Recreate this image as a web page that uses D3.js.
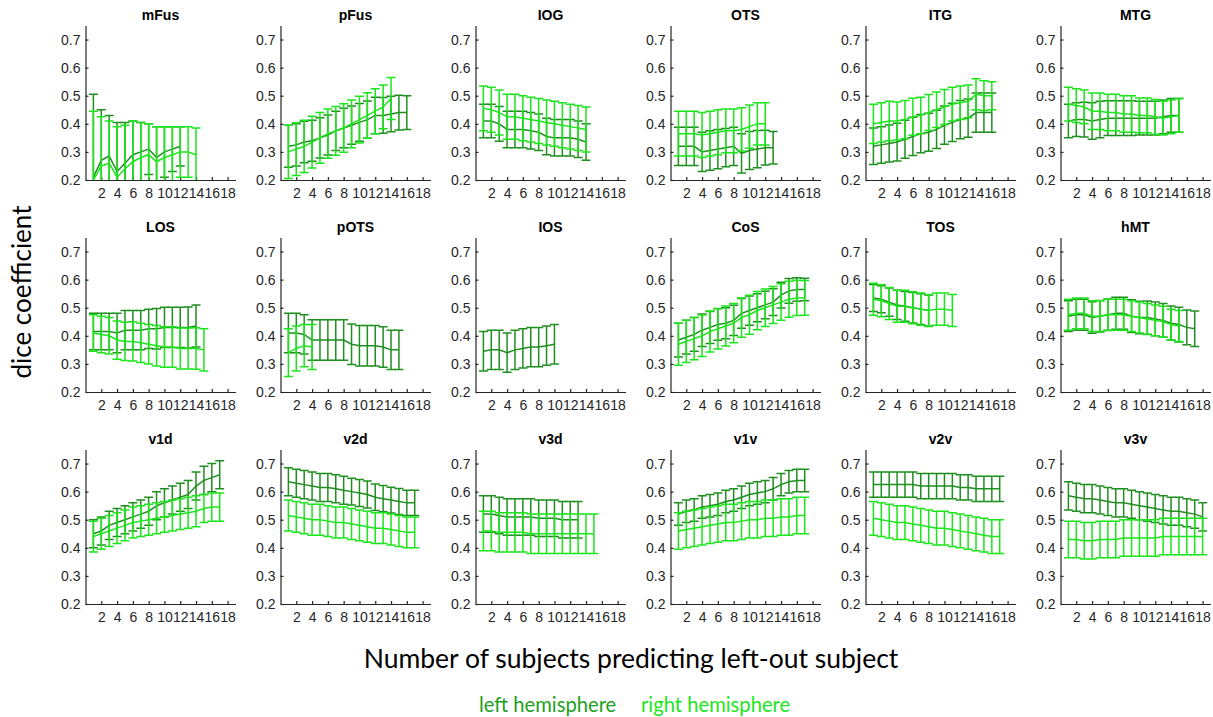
<!DOCTYPE html>
<html>
<head>
<meta charset="utf-8">
<script src="https://cdn.jsdelivr.net/npm/d3@7"></script>
<style>
  body { margin: 0; background: #fff; }
  svg { display: block; }
  .tick text { font-family: "Liberation Sans", Arial, sans-serif; font-size: 14px; fill: #262626; }
  .tick line, .domain { stroke: #262626; stroke-width: 1.2px; }
</style>
</head>
<body>
<svg id="chart" width="1213" height="717"></svg>
<script>
// region names, in panel order (3 rows of 6)
const regions = ["mFus","pFus","IOG","OTS","ITG","MTG","LOS","pOTS","IOS","CoS","TOS","hMT","v1d","v2d","v3d","v1v","v2v","v3v"];
const xTicks = [2,4,6,8,10,12,14,16,18];
const yTicks = [0.2,0.3,0.4,0.5,0.6,0.7];

// left hemisphere mean dice, x = 1..n, one list per region
const leftMean = [
  [0.21,0.27,0.285,0.23,0.26,0.29,0.30,0.31,0.28,0.30,0.31,0.32],
  [0.32,0.325,0.335,0.34,0.35,0.36,0.375,0.385,0.395,0.405,0.415,0.43,0.43,0.435,0.44,0.44],
  [0.41,0.41,0.40,0.38,0.38,0.38,0.375,0.37,0.355,0.35,0.35,0.35,0.345,0.335],
  [0.32,0.32,0.32,0.30,0.305,0.31,0.315,0.32,0.295,0.305,0.31,0.315,0.315],
  [0.32,0.325,0.33,0.335,0.345,0.355,0.365,0.37,0.38,0.395,0.405,0.415,0.42,0.44,0.44,0.44],
  [0.41,0.415,0.415,0.41,0.415,0.42,0.42,0.42,0.42,0.42,0.42,0.42,0.425,0.43,0.43],
  [0.415,0.415,0.415,0.41,0.42,0.42,0.42,0.425,0.425,0.43,0.43,0.43,0.43,0.435],
  [0.41,0.41,0.405,0.385,0.385,0.385,0.385,0.385,0.37,0.365,0.365,0.365,0.36,0.35,0.35],
  [0.345,0.35,0.35,0.34,0.35,0.355,0.36,0.36,0.365,0.37],
  [0.385,0.395,0.405,0.42,0.43,0.44,0.445,0.455,0.48,0.49,0.50,0.51,0.52,0.545,0.56,0.565,0.565],
  [0.535,0.53,0.52,0.51,0.505,0.50,0.495,0.49],
  [0.47,0.475,0.475,0.465,0.47,0.475,0.48,0.48,0.47,0.465,0.465,0.46,0.455,0.445,0.44,0.43,0.425],
  [0.45,0.46,0.48,0.49,0.50,0.51,0.52,0.53,0.55,0.56,0.57,0.58,0.59,0.62,0.64,0.65,0.66],
  [0.635,0.63,0.625,0.62,0.615,0.615,0.61,0.605,0.60,0.595,0.59,0.58,0.575,0.57,0.565,0.56,0.56],
  [0.52,0.52,0.515,0.51,0.51,0.51,0.51,0.505,0.505,0.505,0.50,0.50,0.50],
  [0.52,0.53,0.535,0.545,0.55,0.555,0.565,0.57,0.58,0.59,0.595,0.60,0.61,0.625,0.635,0.64,0.64],
  [0.625,0.625,0.625,0.625,0.625,0.625,0.62,0.62,0.62,0.62,0.62,0.615,0.615,0.61,0.61,0.61,0.61],
  [0.585,0.58,0.575,0.575,0.57,0.565,0.56,0.56,0.555,0.55,0.545,0.54,0.535,0.53,0.53,0.525,0.52,0.51]
];
const leftErr = [
  [0.295,0.18,0.145,0.175,0.145,0.12,0.105,0.09,0.11,0.09,0.08,0.07],
  [0.075,0.075,0.074,0.073,0.072,0.071,0.07,0.07,0.068,0.067,0.066,0.065,0.064,0.063,0.062,0.06],
  [0.06,0.06,0.062,0.065,0.065,0.065,0.065,0.065,0.065,0.065,0.065,0.065,0.065,0.065],
  [0.068,0.068,0.068,0.07,0.07,0.07,0.068,0.068,0.07,0.068,0.066,0.062,0.058],
  [0.065,0.065,0.066,0.067,0.068,0.068,0.068,0.068,0.068,0.068,0.068,0.068,0.068,0.07,0.07,0.07],
  [0.06,0.06,0.062,0.065,0.065,0.062,0.062,0.062,0.062,0.06,0.06,0.06,0.06,0.06,0.06],
  [0.065,0.065,0.065,0.07,0.07,0.07,0.07,0.07,0.072,0.072,0.072,0.072,0.073,0.075],
  [0.07,0.07,0.07,0.072,0.072,0.072,0.072,0.072,0.072,0.072,0.072,0.072,0.072,0.07,0.07],
  [0.07,0.07,0.07,0.07,0.07,0.07,0.07,0.07,0.07,0.07],
  [0.06,0.06,0.06,0.058,0.057,0.056,0.055,0.054,0.053,0.052,0.05,0.049,0.048,0.046,0.044,0.042,0.04],
  [0.048,0.048,0.05,0.052,0.053,0.054,0.055,0.055],
  [0.055,0.055,0.055,0.056,0.056,0.056,0.057,0.057,0.058,0.058,0.059,0.06,0.06,0.061,0.062,0.062,0.063],
  [0.05,0.05,0.05,0.05,0.05,0.05,0.05,0.05,0.05,0.05,0.05,0.05,0.05,0.05,0.05,0.05,0.05],
  [0.05,0.05,0.05,0.05,0.05,0.05,0.05,0.05,0.048,0.048,0.048,0.047,0.047,0.046,0.046,0.045,0.045],
  [0.065,0.065,0.065,0.065,0.065,0.065,0.065,0.065,0.065,0.065,0.065,0.065,0.065],
  [0.04,0.04,0.04,0.04,0.04,0.04,0.04,0.04,0.04,0.04,0.04,0.04,0.04,0.04,0.04,0.04,0.04],
  [0.045,0.045,0.045,0.045,0.045,0.045,0.045,0.045,0.045,0.045,0.045,0.045,0.045,0.045,0.045,0.045,0.045],
  [0.05,0.05,0.05,0.05,0.05,0.05,0.05,0.05,0.05,0.05,0.05,0.05,0.05,0.05,0.05,0.05,0.05,0.05]
];

// right hemisphere
const rightMean = [
  [0.20,0.25,0.26,0.21,0.24,0.265,0.28,0.29,0.265,0.28,0.29,0.30,0.30,0.29],
  [0.30,0.31,0.32,0.335,0.35,0.365,0.375,0.385,0.40,0.415,0.43,0.445,0.46,0.49],
  [0.455,0.45,0.44,0.425,0.425,0.42,0.415,0.41,0.405,0.40,0.395,0.39,0.385,0.38],
  [0.365,0.365,0.365,0.36,0.365,0.37,0.375,0.375,0.38,0.39,0.40,0.40],
  [0.40,0.405,0.41,0.41,0.415,0.425,0.43,0.44,0.45,0.46,0.47,0.475,0.48,0.505,0.50,0.50],
  [0.47,0.465,0.46,0.445,0.445,0.44,0.44,0.435,0.435,0.43,0.43,0.425,0.42,0.425,0.43],
  [0.41,0.405,0.40,0.385,0.38,0.38,0.375,0.37,0.365,0.36,0.36,0.355,0.355,0.355,0.35],
  [0.34,0.355,0.365,0.36],
  [],
  [0.37,0.38,0.39,0.40,0.415,0.425,0.435,0.445,0.465,0.475,0.49,0.50,0.51,0.52,0.53,0.535,0.535],
  [0.53,0.525,0.515,0.505,0.505,0.50,0.495,0.49,0.495,0.495,0.49],
  [0.475,0.48,0.48,0.47,0.47,0.475,0.475,0.475,0.47,0.465,0.46,0.455,0.45,0.44,0.435],
  [0.44,0.45,0.46,0.47,0.48,0.49,0.495,0.50,0.505,0.51,0.515,0.52,0.525,0.53,0.54,0.545,0.545],
  [0.515,0.51,0.505,0.50,0.50,0.495,0.49,0.49,0.485,0.48,0.475,0.47,0.47,0.465,0.46,0.455,0.455],
  [0.46,0.46,0.455,0.455,0.455,0.455,0.45,0.45,0.45,0.45,0.45,0.45,0.45,0.45,0.45],
  [0.46,0.465,0.47,0.475,0.48,0.485,0.49,0.49,0.495,0.50,0.50,0.505,0.505,0.51,0.51,0.515,0.515],
  [0.505,0.50,0.495,0.49,0.49,0.485,0.48,0.475,0.47,0.47,0.465,0.46,0.455,0.45,0.445,0.44,0.44],
  [0.43,0.43,0.425,0.425,0.43,0.43,0.43,0.435,0.435,0.435,0.435,0.435,0.44,0.44,0.44,0.44,0.44,0.44]
];
const rightErr = [
  [0.245,0.175,0.15,0.18,0.155,0.145,0.125,0.11,0.125,0.11,0.10,0.09,0.09,0.095],
  [0.095,0.094,0.093,0.092,0.09,0.088,0.087,0.086,0.085,0.083,0.081,0.08,0.078,0.075],
  [0.08,0.08,0.08,0.08,0.08,0.08,0.08,0.08,0.08,0.08,0.08,0.08,0.08,0.08],
  [0.08,0.08,0.08,0.08,0.08,0.08,0.078,0.078,0.077,0.077,0.075,0.075],
  [0.07,0.07,0.07,0.068,0.068,0.066,0.065,0.064,0.063,0.062,0.06,0.06,0.058,0.055,0.053,0.05],
  [0.06,0.06,0.06,0.065,0.065,0.065,0.065,0.065,0.065,0.062,0.062,0.062,0.06,0.06,0.06],
  [0.065,0.065,0.065,0.068,0.068,0.07,0.07,0.07,0.072,0.072,0.072,0.073,0.073,0.074,0.075],
  [0.085,0.08,0.075,0.08],
  [],
  [0.075,0.075,0.075,0.074,0.073,0.072,0.071,0.07,0.07,0.069,0.068,0.067,0.066,0.065,0.064,0.063,0.062],
  [0.057,0.057,0.057,0.057,0.057,0.057,0.057,0.057,0.057,0.057,0.057],
  [0.055,0.055,0.055,0.055,0.055,0.055,0.055,0.055,0.055,0.055,0.055,0.055,0.055,0.055,0.055],
  [0.055,0.055,0.055,0.055,0.055,0.055,0.055,0.055,0.055,0.055,0.055,0.055,0.055,0.055,0.05,0.05,0.05],
  [0.055,0.055,0.055,0.055,0.055,0.055,0.055,0.055,0.055,0.055,0.055,0.055,0.055,0.055,0.055,0.055,0.055],
  [0.07,0.07,0.07,0.07,0.07,0.07,0.07,0.07,0.07,0.07,0.07,0.07,0.07,0.07,0.07],
  [0.065,0.065,0.065,0.065,0.065,0.065,0.065,0.065,0.065,0.065,0.065,0.065,0.065,0.065,0.065,0.065,0.065],
  [0.06,0.06,0.06,0.06,0.06,0.06,0.06,0.06,0.06,0.06,0.06,0.06,0.06,0.06,0.06,0.06,0.06],
  [0.065,0.065,0.065,0.065,0.065,0.065,0.065,0.065,0.065,0.065,0.065,0.065,0.065,0.065,0.065,0.065,0.065,0.065]
];

const leftColor = "#1f8f1f";
const rightColor = "#1ae61a";

const svg = d3.select("#chart");
const panelW = 150, panelH = 154.5;

regions.forEach((name, i) => {
  const col = i % 6, row = Math.floor(i / 6);
  const x0 = 85.5 + col * 195;
  const yb = 180 + row * 212;

  const x = d3.scaleLinear().domain([0, 19]).range([x0, x0 + panelW]);
  const y = d3.scaleLinear().domain([0.2, 0.75]).range([yb, yb - panelH]);

  const g = svg.append("g");

  svg.append("clipPath").attr("id", "clip" + i)
    .append("rect")
    .attr("x", x0).attr("y", yb - panelH)
    .attr("width", panelW).attr("height", panelH);

  g.append("g")
    .attr("transform", `translate(0,${yb})`)
    .call(d3.axisBottom(x).tickValues(xTicks).tickSize(-3).tickSizeOuter(0).tickPadding(8));

  g.append("g")
    .attr("transform", `translate(${x0},0)`)
    .call(d3.axisLeft(y).tickValues(yTicks).tickSize(-3).tickSizeOuter(0).tickPadding(5)
      .tickFormat(d3.format(".1f")));

  g.append("text")
    .attr("x", x0 + panelW / 2).attr("y", yb - 160)
    .attr("text-anchor", "middle")
    .style("font-family", "Liberation Sans, Arial, sans-serif")
    .style("font-weight", "bold").style("font-size", "14px")
    .attr("fill", "#000")
    .text(name);

  const plot = g.append("g").attr("clip-path", `url(#clip${i})`);

  const series = [
    { mean: leftMean[i], err: leftErr[i], color: leftColor },
    { mean: rightMean[i], err: rightErr[i], color: rightColor }
  ];

  series.forEach(s => {
    const pts = s.mean.map((m, k) => ({ n: k + 1, m, e: s.err[k] }));
    const sg = plot.append("g").attr("stroke", s.color).attr("stroke-width", 1.5).attr("fill", "none");

    sg.selectAll(".bar").data(pts).join("line")
      .attr("x1", d => x(d.n)).attr("x2", d => x(d.n))
      .attr("y1", d => y(d.m - d.e)).attr("y2", d => y(d.m + d.e));
    sg.selectAll(".capt").data(pts).join("line").attr("class", "capt")
      .attr("x1", d => x(d.n) - 4.5).attr("x2", d => x(d.n) + 4.5)
      .attr("y1", d => y(d.m + d.e)).attr("y2", d => y(d.m + d.e));
    sg.selectAll(".capb").data(pts).join("line").attr("class", "capb")
      .attr("x1", d => x(d.n) - 4.5).attr("x2", d => x(d.n) + 4.5)
      .attr("y1", d => y(d.m - d.e)).attr("y2", d => y(d.m - d.e));

    sg.append("path").datum(pts)
      .attr("d", d3.line().x(d => x(d.n)).y(d => y(d.m)));
  });
});

// shared labels
svg.append("text")
  .attr("transform", "translate(31,292) rotate(-90)")
  .attr("text-anchor", "middle")
  .style("font-family", "Lato, sans-serif").style("font-size", "26px")
  .attr("fill", "#000")
  .text("dice coefficient");

svg.append("text")
  .attr("x", 631).attr("y", 668)
  .attr("text-anchor", "middle")
  .style("font-family", "Lato, sans-serif").style("font-size", "26.5px")
  .attr("fill", "#000")
  .text("Number of subjects predicting left-out subject");

svg.append("text")
  .attr("x", 479).attr("y", 712)
  .style("font-family", "Lato, sans-serif").style("font-size", "20.2px")
  .attr("fill", "#22a022")
  .text("left hemisphere");

svg.append("text")
  .attr("x", 641).attr("y", 712)
  .style("font-family", "Lato, sans-serif").style("font-size", "20.2px")
  .attr("fill", "#1ee61e")
  .text("right hemisphere");
</script>
</body>
</html>
